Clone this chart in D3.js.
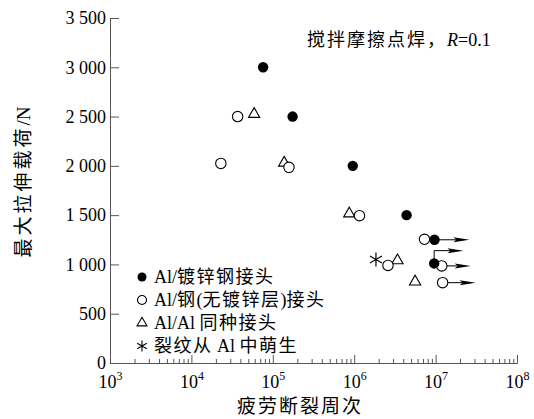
<!DOCTYPE html>
<html lang="zh">
<head>
<meta charset="UTF-8">
<script src="https://d3js.org/d3.v7.min.js"></script>
<style>
  * { margin: 0; padding: 0; }
  body { background: #fff; }
  svg text { font-family: "Liberation Serif", "Noto Sans CJK SC", serif; fill: #000; }
</style>
</head>
<body>
<svg id="chart" width="534" height="419"></svg>
<script>
// data: [cycles, load N]
const galvanized = [[7.6e4, 3000], [1.75e5, 2500], [9.6e5, 2000], [4.4e6, 1500], [9.7e6, 1250], [9.6e6, 1010]];
const bareSteel = [[3.7e4, 2500], [2.3e4, 2025], [1.58e5, 1985], [1.16e6, 1495], [7.3e6, 1255], [2.6e6, 990], [1.19e7, 985], [1.22e7, 815]];
const alAl = [[5.9e4, 2525], [1.38e5, 2030], [8.7e5, 1515], [3.4e6, 1040], [5.6e6, 825]];
const crackAl = [[1.85e6, 1050]];
// run-outs: start point, tip cycles, tip load
const runouts = [
  { from: [9.7e6, 1250], to: [2.6e7, 1250] },
  { from: [9.6e6, 1010], to: [2.2e7, 1140], bent: true },
  { from: [1.19e7, 985], to: [2.7e7, 985] },
  { from: [1.22e7, 815], to: [3.1e7, 815] }
];
const yTicks = [0, 500, 1000, 1500, 2000, 2500, 3000, 3500];
const xDecades = [1e3, 1e4, 1e5, 1e6, 1e7, 1e8];
const legendItems = ['Al/镀锌钢接头', 'Al/钢(无镀锌层)接头', 'Al/Al 同种接头', '裂纹从 Al 中萌生'];

const svg = d3.select('#chart');
const x = d3.scaleLog().domain([1e3, 1e8]).range([110, 517]);
const y = d3.scaleLinear().domain([0, 3500]).range([363, 18]);
const axisColor = '#555';

// split text into CJK / latin runs so only CJK gets extra spacing
function spacedText(sel, str, spacing) {
  str.match(/[\u3000-\u9fff\uff00-\uffef]+|[^\u3000-\u9fff\uff00-\uffef]+/g).forEach(run => {
    const cjk = /[\u3000-\u9fff\uff00-\uffef]/.test(run);
    sel.append('tspan').style('letter-spacing', cjk ? spacing + 'px' : '0px').text(run);
  });
}

// minor ticks
const minor = [];
xDecades.slice(0, -1).forEach(d => { for (let k = 2; k <= 9; k++) minor.push(d * k); });

const gxMinor = svg.append('g').attr('transform', 'translate(0,363)')
  .call(d3.axisBottom(x).tickValues(minor).tickSize(-4).tickSizeOuter(0).tickFormat(''));
const gx = svg.append('g').attr('transform', 'translate(0,363)')
  .call(d3.axisBottom(x).tickValues(xDecades).tickSize(-8).tickSizeOuter(0).tickFormat(''));
[gxMinor, gx].forEach(g => {
  g.selectAll('path,line').attr('stroke', axisColor);
});
gx.selectAll('.tick').append('text')
  .attr('y', 25).attr('text-anchor', 'middle')
  .style('font-size', '18px')
  .each(function(d) {
    const t = d3.select(this);
    t.append('tspan').text('10');
    t.append('tspan').attr('dy', -8).style('font-size', '12px').text(Math.round(Math.log10(d)));
  });

const gy = svg.append('g').attr('transform', 'translate(110,0)')
  .call(d3.axisLeft(y).tickValues(yTicks).tickSize(-9).tickSizeOuter(0).tickPadding(4)
    .tickFormat(d => d3.format(',')(d).replace(',', ' ')));
gy.selectAll('path,line').attr('stroke', axisColor);
gy.selectAll('text').style('font-size', '18px').attr('fill', '#000');

// axis titles
const xt = svg.append('text').attr('x', 300).attr('y', 413).attr('text-anchor', 'middle')
  .style('font-size', '19px');
spacedText(xt, '疲劳断裂周次', 2);
const yt = svg.append('text').attr('transform', 'translate(30,182) rotate(-90)').attr('text-anchor', 'middle')
  .style('font-size', '19px');
spacedText(yt, '最大拉伸载荷', 3);
yt.append('tspan').text('/N');

// annotation
const ann = svg.append('text').attr('x', 307).attr('y', 46).style('font-size', '18px');
spacedText(ann, '搅拌摩擦点焊，', 2);
ann.append('tspan').style('font-style', 'italic').text('R');
ann.append('tspan').text('=0.1');

// run-out arrows
const arrows = svg.append('g');
runouts.forEach(r => {
  const x0 = x(r.from[0]), y0 = y(r.from[1]);
  const x1 = x(r.to[0]), y1 = y(r.to[1]);
  const pts = r.bent ? [[x0, y0], [x0, y1], [x1 - 12, y1]] : [[x0, y0], [x1 - 12, y1]];
  arrows.append('path').attr('d', d3.line()(pts)).attr('fill', 'none').attr('stroke', '#000').attr('stroke-width', 1);
  arrows.append('path').attr('d', d3.line()([[x1 - 16, y1 - 2.5], [x1, y1], [x1 - 16, y1 + 2.5], [x1 - 13, y1]]) + 'Z').attr('fill', '#000');
});

// markers
const circ = d3.symbol().type(d3.symbolCircle).size(85);
const tri = d3.symbol().type(d3.symbolTriangle).size(55);
const star = d3.symbol().type(d3.symbolAsterisk).size(135);
const pts = svg.append('g');
pts.selectAll('.tri').data(alAl).join('path')
  .attr('transform', d => `translate(${x(d[0])},${y(d[1])})`)
  .attr('d', tri).attr('fill', '#fff').attr('stroke', '#000').attr('stroke-width', 1.1);
pts.selectAll('.open').data(bareSteel).join('path')
  .attr('transform', d => `translate(${x(d[0])},${y(d[1])})`)
  .attr('d', circ).attr('fill', '#fff').attr('stroke', '#000').attr('stroke-width', 1.1);
pts.selectAll('.filled').data(galvanized).join('path')
  .attr('transform', d => `translate(${x(d[0])},${y(d[1])})`)
  .attr('d', circ).attr('fill', '#000');
pts.selectAll('.star').data(crackAl).join('path')
  .attr('transform', d => `translate(${x(d[0])},${y(d[1])})`)
  .attr('d', star).attr('fill', 'none').attr('stroke', '#000').attr('stroke-width', 1.2);

// legend
const legend = svg.append('g');
const legendSymbols = [
  { d: d3.symbol().type(d3.symbolCircle).size(64)(), fill: '#000', stroke: 'none' },
  { d: d3.symbol().type(d3.symbolCircle).size(64)(), fill: '#fff', stroke: '#000' },
  { d: d3.symbol().type(d3.symbolTriangle).size(42)(), fill: '#fff', stroke: '#000' },
  { d: d3.symbol().type(d3.symbolAsterisk).size(85)(), fill: 'none', stroke: '#000' }
];
legendItems.forEach((label, i) => {
  const ly = 277 + i * 23;
  const s = legendSymbols[i];
  legend.append('path').attr('transform', `translate(142,${ly})`).attr('d', s.d)
    .attr('fill', s.fill).attr('stroke', s.stroke).attr('stroke-width', 1.1);
  const t = legend.append('text').attr('x', 154).attr('y', ly + 6).style('font-size', '18px');
  spacedText(t, label, 1.5);
});
</script>
</body>
</html>
